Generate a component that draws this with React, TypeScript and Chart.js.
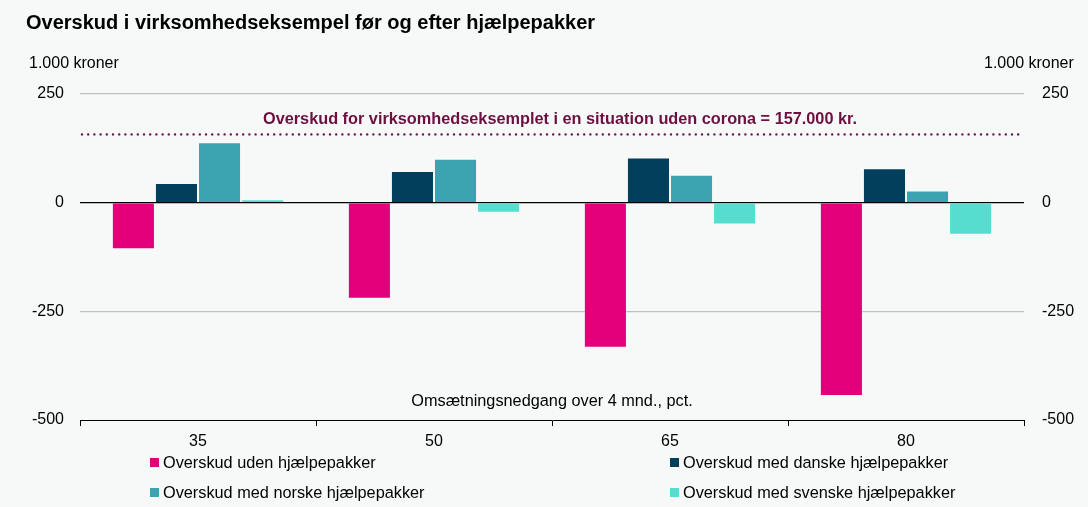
import React, { useEffect, useRef } from "react";
import { Chart, registerables } from "chart.js";

Chart.register(...registerables);

const categories = ["35", "50", "65", "80"];
const seriesLabels = [
  "Overskud uden hjælpepakker",
  "Overskud med danske hjælpepakker",
  "Overskud med norske hjælpepakker",
  "Overskud med svenske hjælpepakker",
];
const udenValues = [-107, -221, -334, -445];
const danskeValues = [45, 73, 104, 79];
const norskeValues = [139, 101, 64, 28];
const svenskeValues = [8, -23, -50, -74];
const seriesColors = ["#e2007a", "#023f5c", "#3ca3b0", "#56ddd0"];
const yTicks = [-500, -250, 0, 250];
const referenceValue = 157;
const referenceText =
  "Overskud for virksomhedseksemplet i en situation uden corona = 157.000 kr.";
const xAxisTitle = "Omsætningsnedgang over 4 mnd., pct.";
const unitLabel = "1.000 kroner";
const titleText = "Overskud i virksomhedseksempel før og efter hjælpepakker";

const FONT = "'Liberation Sans', Arial, sans-serif";
const MAROON = "#6d0f3f";
const BG = "#f7f9f9";

const annotationPlugin = {
  id: "annotations",
  afterDatasetsDraw(chart: any) {
    const { ctx, chartArea, scales } = chart;
    const y = scales.y.getPixelForValue(referenceValue);
    ctx.save();
    ctx.strokeStyle = MAROON;
    ctx.lineWidth = 2.4;
    ctx.lineCap = "round";
    ctx.setLineDash([0, 6.2]);
    ctx.beginPath();
    ctx.moveTo(chartArea.left + 2, y);
    ctx.lineTo(chartArea.right, y);
    ctx.stroke();
    ctx.setLineDash([]);
    ctx.fillStyle = MAROON;
    ctx.font = `bold 16.3px ${FONT}`;
    ctx.textAlign = "center";
    ctx.textBaseline = "middle";
    const cx = (chartArea.left + chartArea.right) / 2 + 8;
    ctx.fillText(referenceText, cx, y - 15);
    ctx.fillStyle = "#000";
    ctx.font = `16.3px ${FONT}`;
    ctx.fillText(
      xAxisTitle,
      (chartArea.left + chartArea.right) / 2,
      chartArea.bottom - 18
    );
    ctx.restore();
  },
};

export default function App() {
  const canvasRef = useRef<HTMLCanvasElement | null>(null);

  useEffect(() => {
    document.body.style.margin = "0";
    document.body.style.background = BG;
    const canvas = canvasRef.current;
    if (!canvas) return;
    const values = [udenValues, danskeValues, norskeValues, svenskeValues];
    const chart = new Chart(canvas, {
      type: "bar",
      data: {
        labels: categories,
        datasets: seriesLabels.map((label, i) => ({
          label,
          data: values[i],
          backgroundColor: seriesColors[i],
          borderColor: "rgba(255,255,255,0.22)",
          borderWidth: 1,
          categoryPercentage: 0.73,
          barPercentage: 1,
        })),
      },
      options: {
        animation: false,
        responsive: false,
        maintainAspectRatio: false,
        layout: { padding: { top: 94, bottom: 0, left: 0, right: 0 } },
        plugins: {
          legend: { display: false },
          tooltip: { enabled: false },
          title: { display: false },
        },
        scales: {
          x: {
            grid: {
              offset: true,
              drawOnChartArea: false,
              drawTicks: true,
              tickLength: 6,
              color: "#000",
            },
            border: { color: "#000", width: 1 },
            ticks: {
              color: "#000",
              font: { family: FONT, size: 16 },
              padding: 6,
            },
            afterFit: (s: any) => {
              s.height = 87;
            },
          },
          y: {
            position: "left",
            min: -500,
            max: 250,
            afterBuildTicks: (s: any) => {
              s.ticks = yTicks.map((v) => ({ value: v }));
            },
            ticks: {
              color: "#000",
              font: { family: FONT, size: 16 },
              padding: 16,
            },
            grid: {
              drawTicks: false,
              color: (c: any) =>
                c.tick && c.tick.value === 0
                  ? "#000"
                  : c.tick && c.tick.value === -500
                  ? "rgba(0,0,0,0)"
                  : "#bfbfbf",
              lineWidth: 1.3,
            },
            border: { display: false },
            afterFit: (s: any) => {
              s.width = 80;
            },
          },
          y2: {
            position: "right",
            min: -500,
            max: 250,
            afterBuildTicks: (s: any) => {
              s.ticks = yTicks.map((v) => ({ value: v }));
            },
            ticks: {
              color: "#000",
              font: { family: FONT, size: 16 },
              padding: 18,
            },
            grid: { display: false, drawTicks: false },
            border: { display: false },
            afterFit: (s: any) => {
              s.width = 64;
            },
          },
        },
      },
      plugins: [annotationPlugin],
    } as any);
    return () => chart.destroy();
  }, []);

  const textBase: React.CSSProperties = {
    position: "absolute",
    fontFamily: FONT,
    whiteSpace: "nowrap",
    color: "#000",
  };

  const legendPos = [
    { x: 150, y: 462 },
    { x: 670, y: 462 },
    { x: 150, y: 492 },
    { x: 670, y: 492 },
  ];

  return (
    <div
      style={{
        position: "fixed",
        left: 0,
        top: 0,
        width: 1088,
        height: 507,
        background: BG,
        overflow: "hidden",
      }}
    >
      <canvas
        ref={canvasRef}
        width={1088}
        height={507}
        style={{ position: "absolute", left: 0, top: 0 }}
      />
      <div
        style={{
          ...textBase,
          left: 26,
          top: 22 - 12,
          lineHeight: "24px",
          fontSize: 20,
          fontWeight: "bold",
        }}
      >
        {titleText}
      </div>
      <div
        style={{ ...textBase, left: 29, top: 62.5 - 10, lineHeight: "20px", fontSize: 16 }}
      >
        {unitLabel}
      </div>
      <div
        style={{ ...textBase, left: 984, top: 62.5 - 10, lineHeight: "20px", fontSize: 16 }}
      >
        {unitLabel}
      </div>
      {seriesLabels.map((label, i) => (
        <div
          key={label}
          style={{
            ...textBase,
            left: legendPos[i].x,
            top: legendPos[i].y - 10,
            height: 20,
            lineHeight: "20px",
            fontSize: 16.3,
          }}
        >
          <span
            style={{
              position: "absolute",
              left: 0,
              top: 5.5,
              width: 9,
              height: 9,
              background: seriesColors[i],
            }}
          />
          <span style={{ position: "absolute", left: 13, top: 0 }}>{label}</span>
        </div>
      ))}
    </div>
  );
}
